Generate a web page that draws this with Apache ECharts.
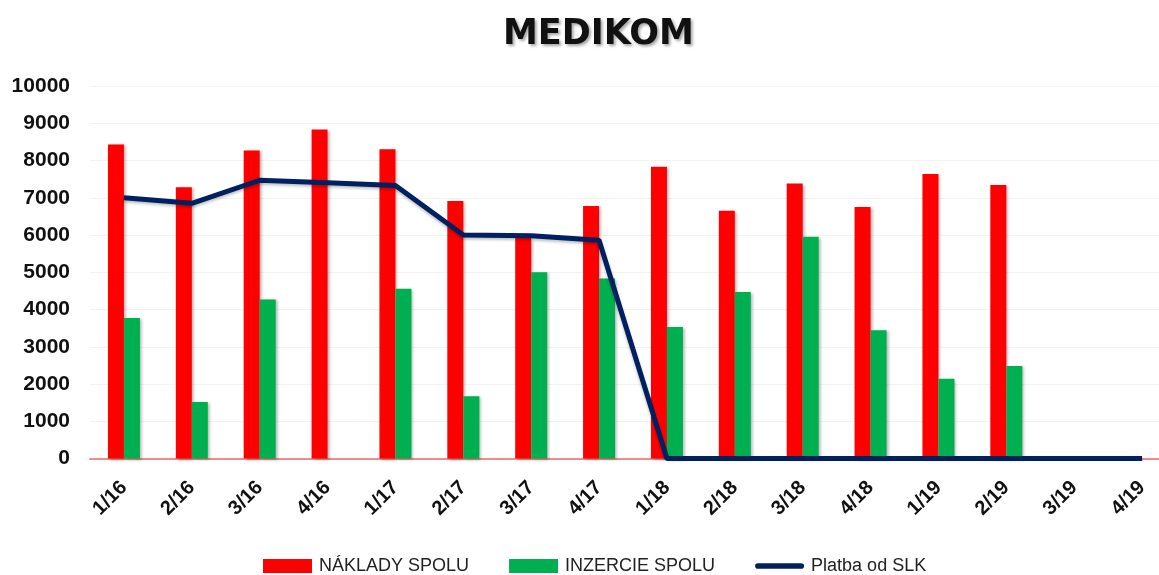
<!DOCTYPE html>
<html>
<head>
<meta charset="utf-8">
<script src="https://cdn.jsdelivr.net/npm/echarts@6/dist/echarts.min.js"></script>
<style>
  html, body { margin: 0; padding: 0; background: #fff; }
  #main { width: 1159px; height: 575px; }
</style>
</head>
<body>
<div id="main"></div>
<script>
var categories = ['1/16', '2/16', '3/16', '4/16', '1/17', '2/17', '3/17', '4/17',
                  '1/18', '2/18', '3/18', '4/18', '1/19', '2/19', '3/19', '4/19'];
var naklady = [8430, 7280, 8270, 8830, 8300, 6910, 5920, 6780,
               7830, 6650, 7380, 6750, 7640, 7340, null, null];
var inzercia = [3770, 1520, 4270, null, 4560, 1670, 5000, 4830,
                3530, 4470, 5950, 3440, 2140, 2480, null, null];
var platba = [7000, 6850, 7470, 7400, 7330, 6000, 5980, 5860,
              0, 0, 0, 0, 0, 0, 0, 0];
var yTicks = [0, 10000, 1000];

onload = function () {
    var myChart = echarts.init(document.getElementById('main'));

    myChart.setOption({
        backgroundColor: '#fff',
        animation: false,
        title: {
            text: 'MEDIKOM',
            left: 503,
            top: 17,
            padding: 0,
            textStyle: {
                fontFamily: 'DejaVu Sans',
                fontWeight: 'bold',
                fontSize: 35,
                color: '#111',
                textShadowColor: 'rgba(0,0,0,0.35)',
                textShadowBlur: 3,
                textShadowOffsetX: 2,
                textShadowOffsetY: 2
            }
        },
        legend: {
            top: 552,
            left: 258,
            itemWidth: 49,
            itemHeight: 14,
            itemGap: 40,
            textStyle: {
                fontFamily: 'Liberation Sans',
                fontSize: 18,
                color: '#222',
                padding: [0, 0, 0, 2]
            },
            data: [
                { name: 'NÁKLADY SPOLU', icon: 'rect' },
                { name: 'INZERCIE SPOLU', icon: 'rect' },
                { name: 'Platba od SLK', icon: 'path://M2,5 L48,5 A2,2 0 0 1 48,11 L2,11 A2,2 0 0 1 2,5 Z' }
            ]
        },
        grid: {
            left: 90,
            top: 86,
            width: 1086,
            height: 372.5,
            outerBoundsMode: 'none'
        },
        xAxis: {
            type: 'category',
            data: categories,
            axisLine: { lineStyle: { color: '#f28c8c', width: 2 } },
            axisTick: { show: false },
            axisLabel: {
                rotate: 45,
                margin: 26,
                fontFamily: 'Liberation Sans',
                fontWeight: 'bold',
                fontSize: 20,
                color: '#111'
            }
        },
        yAxis: {
            type: 'value',
            min: yTicks[0],
            max: yTicks[1],
            interval: yTicks[2],
            axisLine: { show: false },
            axisTick: { show: false },
            splitLine: { lineStyle: { color: '#f2f2f2' } },
            axisLabel: {
                margin: 20,
                formatter: function (v) { return String(v); },
                fontFamily: 'Liberation Sans',
                fontWeight: 'bold',
                fontSize: 21,
                color: '#111'
            }
        },
        series: [{
            name: 'NÁKLADY SPOLU',
            type: 'bar',
            data: naklady,
            barWidth: 16,
            barGap: '0%',
            itemStyle: {
                color: '#ff0000',
                shadowColor: 'rgba(0,0,0,0.3)',
                shadowBlur: 3,
                shadowOffsetX: 2,
                shadowOffsetY: 1
            }
        }, {
            name: 'INZERCIE SPOLU',
            type: 'bar',
            data: inzercia,
            barWidth: 16,
            barGap: '0%',
            itemStyle: {
                color: '#00b050',
                shadowColor: 'rgba(0,0,0,0.3)',
                shadowBlur: 3,
                shadowOffsetX: 2,
                shadowOffsetY: 1
            }
        }, {
            name: 'Platba od SLK',
            type: 'line',
            data: platba,
            symbol: 'none',
            lineStyle: {
                color: '#002060',
                width: 5,
                shadowColor: 'rgba(0,0,0,0.25)',
                shadowBlur: 3,
                shadowOffsetY: 2
            },
            itemStyle: { color: '#002060' },
            z: 5
        }]
    });
}
</script>
</body>
</html>
